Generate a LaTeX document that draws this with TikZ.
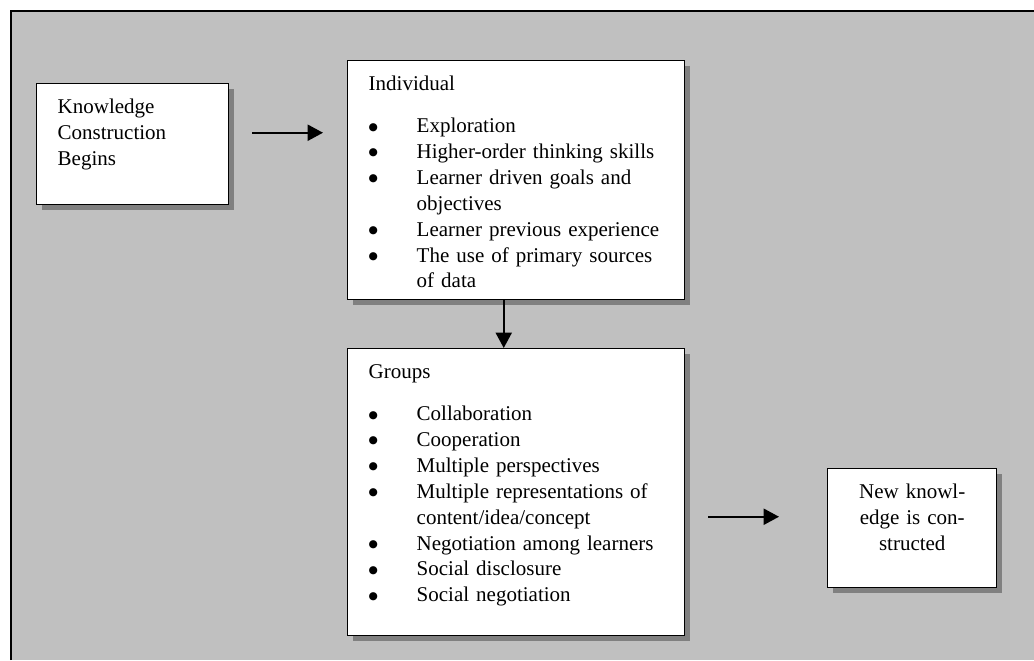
\documentclass[tikz,border=0pt]{standalone}
\usepackage{fontspec}
\setmainfont{Liberation Serif}
\newfontfamily\dotfont{DejaVu Sans}
\usepackage{tikz}
\usetikzlibrary{arrows.meta,calc,shadows}

\definecolor{panelgray}{HTML}{C0C0C0}
\definecolor{shadowgray}{HTML}{808080}

\newcommand{\bul}[1]{\par\noindent\raggedright\hangindent=36pt\hangafter=1%
  \makebox[36pt][l]{\raisebox{2pt}{\dotfont\fontsize{8pt}{8pt}\selectfont ●}}#1}

\begin{document}
\begin{tikzpicture}[x=0.75pt,y=-0.75pt,
  box/.style={draw,fill=white,line width=1.1pt,anchor=north west,
    inner xsep=15.75pt,inner ysep=11pt,text height=11.5pt,align=left,
    font=\fontsize{15.75pt}{19.4pt}\selectfont,
    drop shadow={shadow xshift=3.75pt,shadow yshift=-3.75pt,fill=shadowgray,opacity=1}},
  arr/.style={line width=1.5pt,-{Triangle[length=11.5pt,width=12pt]}}]
  \useasboundingbox (0,0) rectangle (1034,660);

  % panel
  \fill[panelgray] (11,11) rectangle (1034,660);
  \draw[line width=1.8pt] (11,660) -- (11,11) -- (1034,11);

  % boxes
  \node[box,text width=112.5pt,text depth=57.25pt] (know) at (36,83)
    {Knowledge\\Construction\\Begins};
  \node[box,text width=221.25pt,text depth=145.75pt] (indiv) at (347,60)
    {Individual\par\vspace{12.1pt}
     \bul{Exploration}
     \bul{Higher-order thinking skills}
     \bul{Learner driven goals and\newline objectives}
     \bul{Learner previous experience}
     \bul{The use of primary sources\newline of data}\par};
  \node[box,text width=221.25pt,text depth=181.75pt] (groups) at (347,348)
    {Groups\par\vspace{12.1pt}
     \bul{Collaboration}
     \bul{Cooperation}
     \bul{Multiple perspectives}
     \bul{Multiple representations of\newline content/idea/concept}
     \bul{Negotiation among learners}
     \bul{Social disclosure}
     \bul{Social negotiation}\par};
  \node[box,text width=96.75pt,inner xsep=15pt,align=center,text depth=55.75pt] (newk) at (827,468)
    {New knowl-\\edge is con-\\structed};

  % arrows
  \draw[arr,shorten <=17.25pt,shorten >=18pt] ($(know.east)+(0,-11.5)$) -- ($(know.east -| indiv.west)+(0,-11.5)$);
  \draw[arr] ($(indiv.south)+(-12.5,0)$) -- ($(indiv.south |- groups.north)+(-12.5,0)$);
  \draw[arr,shorten <=17.25pt,shorten >=36pt] ($(newk.west -| groups.east)+(0,-11.5)$) -- ($(newk.west)+(0,-11.5)$);
\end{tikzpicture}
\end{document}
